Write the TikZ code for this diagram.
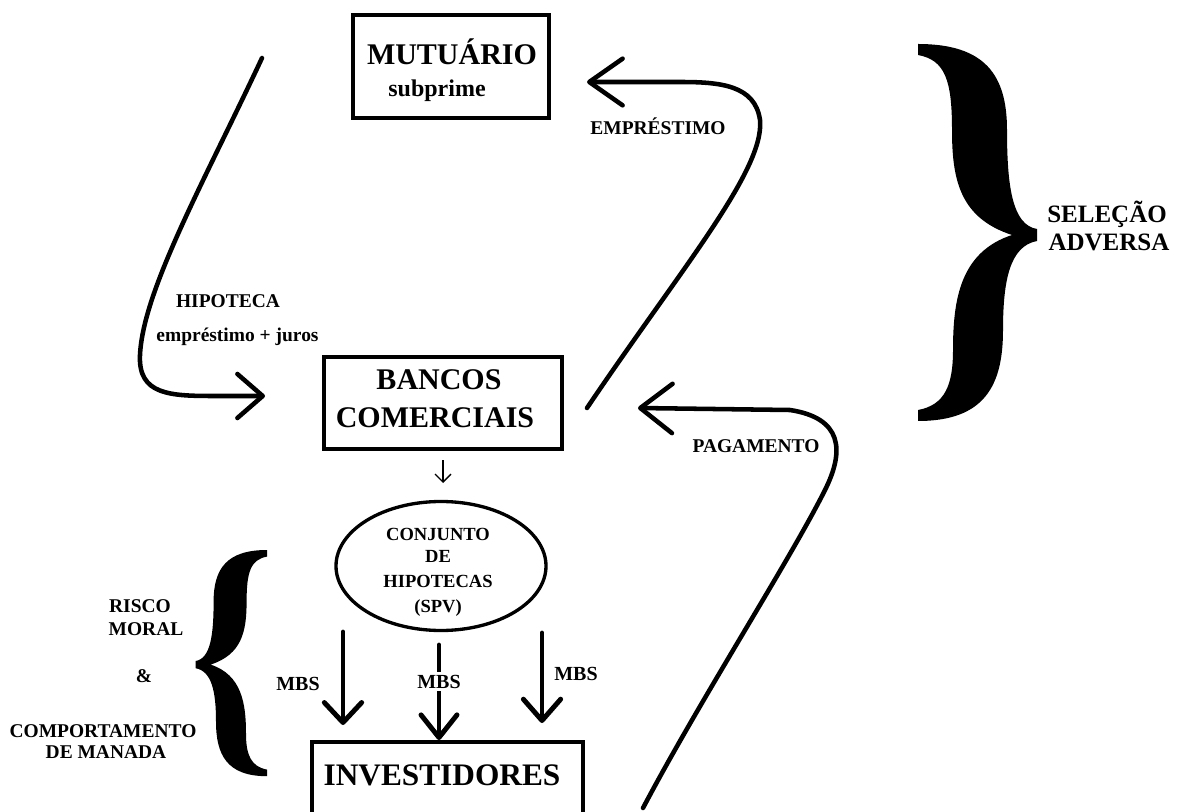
\documentclass[tikz,border=0pt]{standalone}
\usepackage{fontspec}
\setmainfont{Liberation Serif}
\usetikzlibrary{arrows.meta,shapes.geometric}
\begin{document}
\begin{tikzpicture}[x=0.75pt,y=-0.75pt,
  every node/.style={inner sep=0pt, outer sep=0pt},
  frame/.style={draw, rectangle, line width=3.4pt},
  title/.style={anchor=base, font=\fontsize{22.5}{27}\selectfont\bfseries},
  subt/.style={anchor=base, font=\fontsize{18}{21}\selectfont\bfseries},
  flowlbl/.style={anchor=base, font=\fontsize{14.6}{17}\selectfont\bfseries},
  sellbl/.style={anchor=base, font=\fontsize{18.75}{22}\selectfont\bfseries},
  poollbl/.style={anchor=base, font=\fontsize{13.9}{16}\selectfont\bfseries},
  mbslbl/.style={anchor=base, font=\fontsize{15}{18}\selectfont\bfseries},
  flow/.style={line width=3.4pt, line cap=round, line join=round},
  mbsflow/.style={line width=3.7pt, line cap=round, line join=round},
  curly/.pic={
    \fill (0,0) .. controls (67,0) and (89,31) .. (89,86)
      .. controls (89,141) and (94,181) .. (119,185) -- (119,197)
      .. controls (92,202) and (85,236) .. (85,286)
      .. controls (85,341) and (67,377) .. (0,377) -- (0,366)
      .. controls (27,361) and (35,341) .. (35,306)
      .. controls (35,256) and (42,208) .. (94,191)
      .. controls (42,174) and (34,136) .. (34,86)
      .. controls (34,36) and (27,16) .. (0,11) -- cycle;
  },
]
\useasboundingbox (0,0) rectangle (1184,812);
\clip (0,0) rectangle (1184,812);

% boxes and the pool
\node[frame, minimum width=147pt, minimum height=77.25pt] (mut) at (451,66.5) {};
\node[frame, minimum width=178.5pt, minimum height=69pt] (banks) at (443,403) {};
\node[frame, minimum width=203.25pt, minimum height=72pt] (inv) at (447.5,790) {};
\node[draw, ellipse, line width=2.5pt, minimum width=157.5pt, minimum height=96.75pt] (pool) at (441,566) {};

% box texts
\node[title] (mutA) at (452,65) {MUTUÁRIO};
\node[subt] (mutB) at (437,97) {subprime};
\node[title] (banksA) at (439,390) {BANCOS};
\node[title] (banksB) at (435,427) {COMERCIAIS};
\node[title, font=\fontsize{23.5}{28}\selectfont\bfseries] (invA) at (442,785) {INVESTIDORES};
\node[poollbl] (poolA) at (438,540) {CONJUNTO};
\node[poollbl] (poolB) at (438,562) {DE};
\node[poollbl] (poolC) at (438,587) {HIPOTECAS};
\node[poollbl] (poolD) at (438,612) {(SPV)};

% flow labels
\node[flowlbl] (hipA) at (228,308) {HIPOTECA};
\node[flowlbl] (hipB) at (237.5,342) {empréstimo + juros};
\node[flowlbl] (emp) at (658,135) {EMPRÉSTIMO};
\node[flowlbl] (pag) at (756,452) {PAGAMENTO};

% side labels
\node[sellbl] (selA) at (1107,223) {SELEÇÃO};
\node[sellbl] (selB) at (1109,251) {ADVERSA};
\node[flowlbl] (riskA) at (140,612) {RISCO};
\node[flowlbl] (riskB) at (146,635) {MORAL};
\node[flowlbl] (riskC) at (144,682) {\&};
\node[flowlbl] (riskD) at (103,737) {COMPORTAMENTO};
\node[flowlbl] (riskE) at (106,758) {DE MANADA};

% braces
\pic (braceR) at (918,44) {curly};
\pic[xscale=-0.6, yscale=0.6] (braceL) at (267,550) {curly};

% end points of the curved flows
\coordinate (hipS) at (262,58);
\coordinate (hipE) at (265,396);
\coordinate (empS) at (587,408);
\coordinate (empE) at (587,82);
\coordinate (pagS) at (643,808);
\coordinate (pagE) at (638,408);

% mortgage: borrower to banks
\draw[flow, -{Straight Barb[length=19pt, width=33pt, round]}]
  (hipS) .. controls (205,180) and (143,290) .. (140,355)
  .. controls (138,395) and (170,396) .. (215,396) -- (hipE);
% loan: banks to borrower
\draw[flow, -{Straight Barb[length=25pt, width=35pt, round]}]
  (empS) .. controls (680,270) and (765,170) .. (760,120)
  .. controls (755,85) and (720,82) .. (680,82) -- (empE);
% payment: investors to banks
\draw[flow, -{Straight Barb[length=24pt, width=37pt, round]}]
  (pagS) .. controls (700,700) and (790,560) .. (825,490)
  .. controls (845,450) and (842,418) .. (790,410) -- (pagE);

% banks to pool
\coordinate (smS) at (443,460);
\coordinate (smE) at (443,483);
\draw[line width=1pt, -{Straight Barb[length=6pt, width=12pt]}] (smS) -- (smE);

% MBS flows from the pool to the investors
\coordinate (mbsLs) at (343,632);
\coordinate (mbsLe) at (343,725);
\coordinate (mbsMs) at (439,645);
\coordinate (mbsMe) at (439,740);
\coordinate (mbsRs) at (542,633);
\coordinate (mbsRe) at (542,723);
\draw[mbsflow, -{Straight Barb[length=15pt, width=28pt, round]}] (mbsLs) -- (mbsLe);
\draw[mbsflow, -{Straight Barb[length=17pt, width=27pt, round]}] (mbsMs) -- (mbsMe);
\draw[mbsflow, -{Straight Barb[length=16pt, width=28pt, round]}] (mbsRs) -- (mbsRe);

\node[mbslbl] (mbsL) at (298,690) {MBS};
\node[mbslbl, fill=white, inner ysep=2pt] (mbsM) at (439,688) {MBS};
\node[mbslbl] (mbsR) at (576,680) {MBS};
\end{tikzpicture}
\end{document}
